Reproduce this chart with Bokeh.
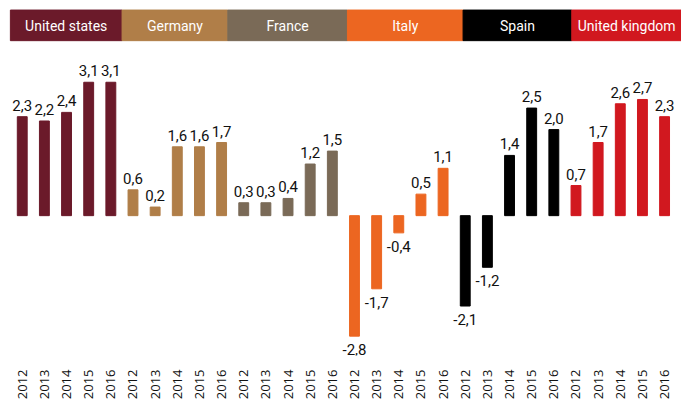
import math
from bokeh.plotting import figure
from bokeh.models import ColumnDataSource, Range1d, FixedTicker, LinearAxis
from bokeh.core.properties import value
from bokeh.embed import file_html
from bokeh.resources import INLINE

# ---- data ----
countries = ["United states", "Germany", "France", "Italy", "Spain", "United kingdom"]
years = ["2012", "2013", "2014", "2015", "2016"]
us_values = [2.3, 2.2, 2.4, 3.1, 3.1]
germany_values = [0.6, 0.2, 1.6, 1.6, 1.7]
france_values = [0.3, 0.3, 0.4, 1.2, 1.5]
italy_values = [-2.8, -1.7, -0.4, 0.5, 1.1]
spain_values = [-2.1, -1.2, 1.4, 2.5, 2.0]
uk_values = [0.7, 1.7, 2.6, 2.7, 2.3]
colors = ["#6B1A2A", "#B07E48", "#7A6A57", "#EC6621", "#000000", "#D1181F"]

series = [us_values, germany_values, france_values, italy_values, spain_values, uk_values]

# ---- layout ----
W, H = 681, 402
SX, SY = 681 / 689, 402 / 410
FRAME_H = 364
ZERO_PX = 225.0 * SY
PX_PER_UNIT = 45.0 * SY
X0_PX = 22.0 * SX
STEP_PX = 22.41 * SX
FONT = "Roboto"
YEAR_FONT = "Open Sans"

x_start = -X0_PX / STEP_PX
x_end = (W - X0_PX) / STEP_PX
y_top = ZERO_PX / PX_PER_UNIT
y_bot = -(FRAME_H - ZERO_PX) / PX_PER_UNIT

def px_to_x(px):
    return (px * SX - X0_PX) / STEP_PX

def px_to_y(py):
    return (ZERO_PX - py * SY) / PX_PER_UNIT

xs, tops, cols, labels, tick_map = [], [], [], [], {}
i = 0
for ci, vals in enumerate(series):
    for yi, v in enumerate(vals):
        xs.append(i)
        tops.append(v)
        cols.append(colors[ci])
        labels.append(f"{v:.1f}".replace(".", ","))
        tick_map[i] = years[yi]
        i += 1

p = figure(width=W, height=H, output_backend="svg", toolbar_location=None,
           x_range=Range1d(x_start, x_end), y_range=Range1d(y_bot, y_top),
           min_border_left=0, min_border_right=0, min_border_top=0,
           min_border_bottom=H - FRAME_H, x_axis_type=None, y_axis_type=None)
p.outline_line_color = None
p.xgrid.visible = False
p.ygrid.visible = False
p.background_fill_color = "white"

src = ColumnDataSource(dict(x=xs, top=tops, color=cols, label=labels))
p.vbar(x="x", top="top", bottom=0, width=10 / 22.41, color="color", source=src)

pos = ColumnDataSource(dict(x=[x for x, t in zip(xs, tops) if t >= 0],
                            y=[t for t in tops if t >= 0],
                            label=[l for l, t in zip(labels, tops) if t >= 0]))
neg = ColumnDataSource(dict(x=[x for x, t in zip(xs, tops) if t < 0],
                            y=[t for t in tops if t < 0],
                            label=[l for l, t in zip(labels, tops) if t < 0]))
p.text(x="x", y="y", text="label", source=pos, text_align="center",
       text_baseline="bottom", y_offset=-6, text_font_size="15px",
       text_font=value(FONT), text_color="#111111")
p.text(x="x", y="y", text="label", source=neg, text_align="center",
       text_baseline="top", y_offset=8, text_font_size="15px",
       text_font=value(FONT), text_color="#111111")

# header band (reference pixel edges)
edges_px = [10, 123, 230, 351, 468, 578, 689]
hl = [px_to_x(e) for e in edges_px[:-1]]
hr = [px_to_x(e) for e in edges_px[1:]]
hsrc = ColumnDataSource(dict(left=hl, right=hr, color=colors, name=countries,
                             mid=[(a + b) / 2 for a, b in zip(hl, hr)]))
p.quad(left="left", right="right", top=px_to_y(10), bottom=px_to_y(42),
       color="color", source=hsrc)
p.text(x="mid", y=px_to_y(27), text="name", source=hsrc, text_align="center",
       text_baseline="middle", text_color="white", text_font_size="14px",
       text_font=value(FONT))

axis = LinearAxis(ticker=FixedTicker(ticks=list(range(len(xs)))),
                  major_label_overrides=tick_map)
axis.axis_line_color = None
axis.major_tick_line_color = None
axis.minor_tick_line_color = None
axis.major_label_orientation = math.pi / 2
axis.major_label_standoff = 8
axis.major_label_text_font = YEAR_FONT
axis.major_label_text_font_size = "13px"
axis.major_label_text_color = "#111111"
p.add_layout(axis, "below")

open("out.html", "w").write(file_html(p, INLINE))
